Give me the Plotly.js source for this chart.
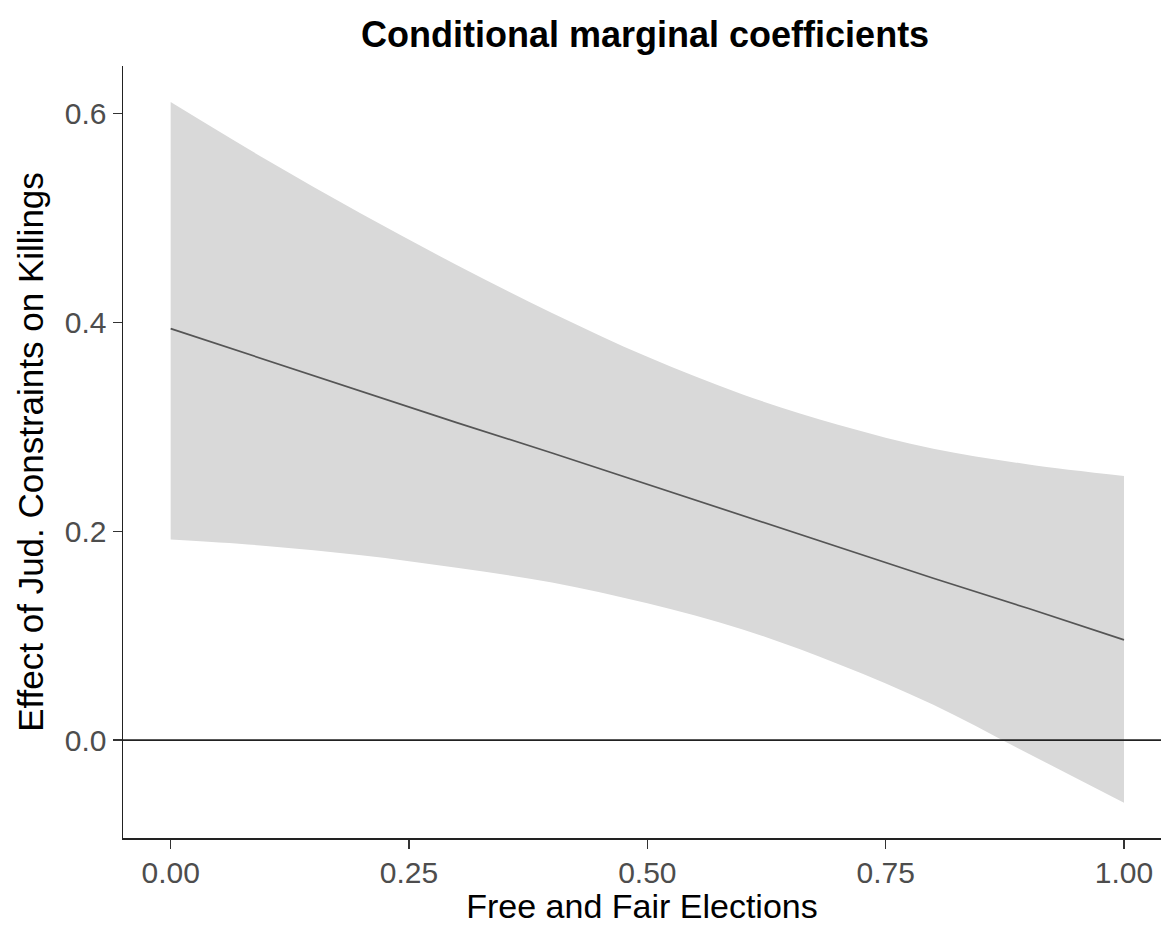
<!DOCTYPE html>
<html>
<head>
<meta charset="utf-8">
<script src="https://cdn.plot.ly/plotly-3.0.1.min.js"></script>
<style>html,body{margin:0;padding:0;background:#fff;}#chart{width:1161px;height:925px;}</style>
</head>
<body>
<div id="chart"></div>
<script>
// Free and Fair Elections (moderator values)
const elections = [0, 0.1, 0.2, 0.3, 0.4, 0.5, 0.6, 0.7, 0.8, 0.9, 1.0];
// Marginal effect of judicial constraints on killings
const effect = [0.394, 0.364, 0.334, 0.304, 0.275, 0.245, 0.215, 0.185, 0.155, 0.126, 0.096];
// Confidence band
const upperCI = [0.611, 0.556, 0.504, 0.455, 0.409, 0.367, 0.331, 0.302, 0.279, 0.264, 0.253];
const lowerCI = [0.192, 0.186, 0.177, 0.165, 0.151, 0.131, 0.106, 0.073, 0.034, -0.013, -0.060];
const xTicks = [0, 0.25, 0.5, 0.75, 1.0];
const xTickText = ["0.00", "0.25", "0.50", "0.75", "1.00"];
const yTicks = [0.0, 0.2, 0.4, 0.6];
const yTickText = ["0.0", "0.2", "0.4", "0.6"];

const FONT = "Liberation Sans, Arial, Helvetica, sans-serif";

const traces = [
  {x: elections, y: lowerCI, type: "scatter", mode: "lines",
   line: {width: 0, shape: "spline", color: "rgba(0,0,0,0)"}, hoverinfo: "skip", showlegend: false},
  {x: elections, y: upperCI, type: "scatter", mode: "lines", fill: "tonexty",
   fillcolor: "#d9d9d9", line: {width: 0, shape: "spline", color: "rgba(0,0,0,0)"}, showlegend: false},
  {x: elections, y: effect, type: "scatter", mode: "lines",
   line: {color: "#555555", width: 1.7}, showlegend: false}
];

const layout = {
  width: 1161, height: 925,
  margin: {l: 123, r: 0, t: 66, b: 87},
  paper_bgcolor: "#ffffff", plot_bgcolor: "#ffffff",
  font: {family: FONT, color: "#000"},
  title: {text: "<b>Conditional marginal coefficients</b>", font: {family: FONT, size: 36, color: "#000"},
          x: 0.503, xanchor: "center", y: 0.963, yanchor: "middle", xref: "paper", yref: "container"},
  xaxis: {
    range: [-0.05, 1.0388], tickmode: "array", tickvals: xTicks, ticktext: xTickText,
    showgrid: false, zeroline: false, showline: true, linecolor: "#222", linewidth: 1.5,
    ticks: "outside", ticklen: 9, tickwidth: 1.5, tickcolor: "#333", ticklabelstandoff: -2,
    tickfont: {family: FONT, size: 30, color: "#4d4d4d"},
    title: {text: "Free and Fair Elections", font: {family: FONT, size: 34, color: "#000"}, standoff: 11}
  },
  yaxis: {
    range: [-0.0937, 0.6455], tickmode: "array", tickvals: yTicks, ticktext: yTickText,
    showgrid: false, zeroline: false, showline: true, linecolor: "#222", linewidth: 1.5,
    ticks: "outside", ticklen: 9, tickwidth: 1.5, tickcolor: "#333",
    tickfont: {family: FONT, size: 30, color: "#4d4d4d"},
    title: {text: "Effect of Jud. Constraints on Killings", font: {family: FONT, size: 35, color: "#000"}, standoff: 10}
  },
  shapes: [
    {type: "line", xref: "paper", x0: 0, x1: 1, yref: "y", y0: 0, y1: 0,
     line: {color: "#222", width: 1.8}, layer: "above"}
  ]
};

Plotly.newPlot("chart", traces, layout, {displayModeBar: false, staticPlot: true});
</script>
</body>
</html>
